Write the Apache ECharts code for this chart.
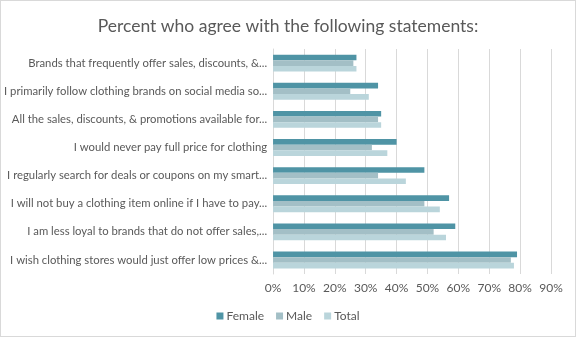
<!DOCTYPE html>
<html>
<head>
<meta charset="utf-8">
<script src="https://cdn.jsdelivr.net/npm/echarts@6/dist/echarts.min.js"></script>
<style>
  html, body { margin: 0; padding: 0; background: #fff; }
  #chart { width: 574px; height: 335px; border: 1px solid #d9d9d9; }
</style>
</head>
<body>
<div id="chart"></div>
<script>
// Statements, listed top to bottom as shown on the chart
const statements = [
  "Brands that frequently offer sales, discounts, &...",
  "I primarily follow clothing brands on social media so...",
  "All the sales, discounts, & promotions available for...",
  "I would never pay full price for clothing",
  "I regularly search for deals or coupons on my smart...",
  "I will not buy a clothing item online if I have to pay...",
  "I am less loyal to brands that do not offer sales,...",
  "I wish clothing stores would just offer low prices &..."
];
// Percent agreeing, same order as statements
const female = [27, 34, 35, 40, 49, 57, 59, 79];
const male   = [26, 25, 34, 32, 34, 49, 52, 77];
const total  = [27, 31, 35, 37, 43, 54, 56, 78];
const xTicks = [0, 10, 20, 30, 40, 50, 60, 70, 80, 90];

const textColor = '#595959';
const font = 'Lato, "Open Sans", sans-serif';

const chart = echarts.init(document.getElementById('chart'));
chart.setOption({
  animation: false,
  textStyle: { fontFamily: font },
  title: {
    text: 'Percent who agree with the following statements:',
    left: 'center',
    top: 11,
    textStyle: { fontFamily: font, fontSize: 17.5, fontWeight: 'normal', color: textColor }
  },
  legend: {
    data: ['Female', 'Male', 'Total'],
    bottom: 9,
    left: 'center',
    icon: 'rect',
    itemWidth: 7,
    itemHeight: 7,
    itemGap: 12,
    textStyle: { fontFamily: font, fontSize: 12, color: textColor, padding: [0, 0, 0, -2] }
  },
  grid: { left: 272, right: 24, top: 48, bottom: 62, containLabel: false },
  xAxis: {
    type: 'value',
    min: xTicks[0],
    max: xTicks[xTicks.length - 1],
    interval: 10,
    axisLine: { show: false },
    axisTick: { show: false },
    splitLine: { lineStyle: { color: '#d9d9d9', width: 1 } },
    axisLabel: { formatter: '{value}%', color: textColor, fontSize: 12, margin: 8, fontFamily: font }
  },
  yAxis: {
    type: 'category',
    inverse: true,
    data: statements,
    axisLine: { show: true, lineStyle: { color: '#d9d9d9' } },
    axisTick: { show: false },
    axisLabel: { color: textColor, fontSize: 11.3, margin: 6, fontFamily: font }
  },
  series: [
    { name: 'Female', type: 'bar', data: female, itemStyle: { color: '#4f94a5' }, barGap: '0%', barCategoryGap: '40%' },
    { name: 'Male', type: 'bar', data: male, itemStyle: { color: '#a3bfc6' }, barGap: '0%', barCategoryGap: '40%' },
    { name: 'Total', type: 'bar', data: total, itemStyle: { color: '#bad5db' }, barGap: '0%', barCategoryGap: '40%' }
  ]
});
</script>
</body>
</html>
